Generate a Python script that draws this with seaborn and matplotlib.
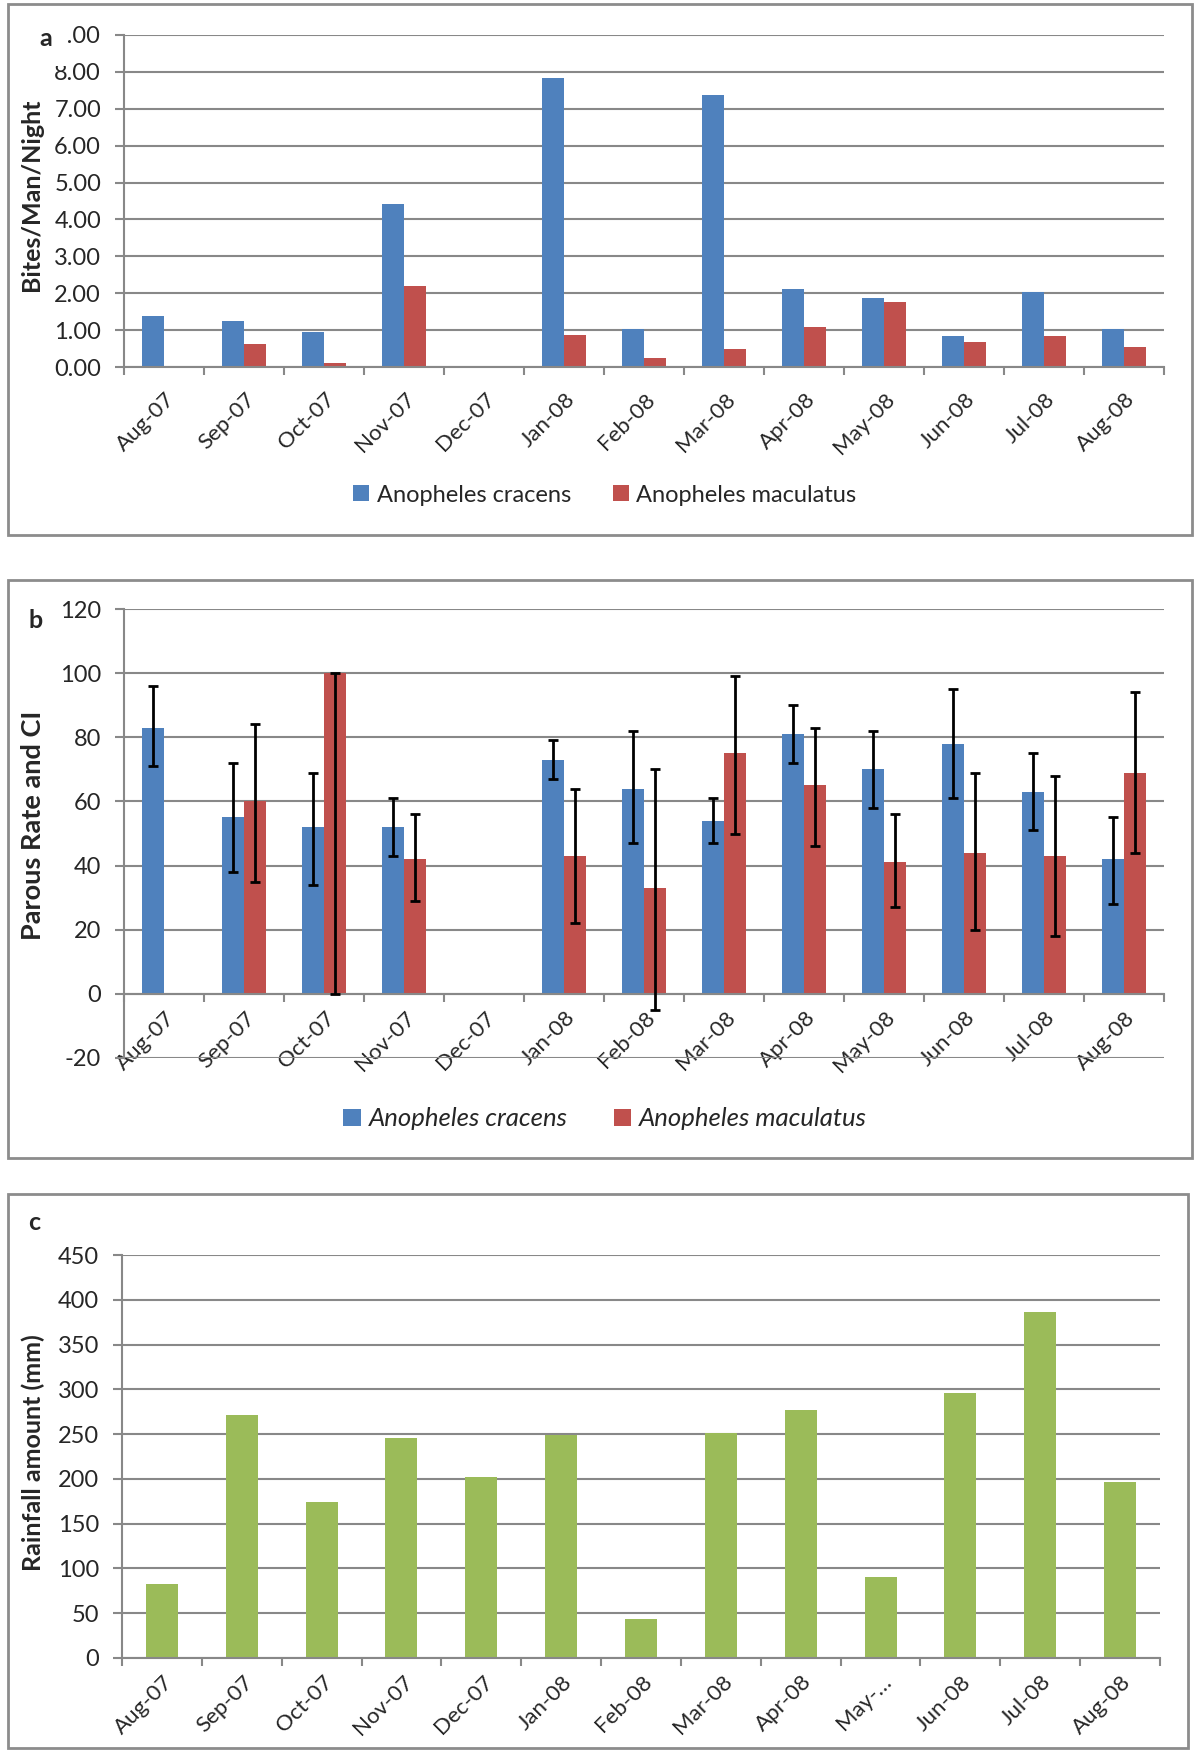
import numpy as np
import pandas as pd
import matplotlib
matplotlib.use("Agg")
import matplotlib.pyplot as plt
import seaborn as sns
from matplotlib.patches import Rectangle
from matplotlib.transforms import ScaledTranslation

# ---------------- data ----------------
months = ["Aug-07", "Sep-07", "Oct-07", "Nov-07", "Dec-07", "Jan-08", "Feb-08",
          "Mar-08", "Apr-08", "May-08", "Jun-08", "Jul-08", "Aug-08"]
months_c = ["Aug-07", "Sep-07", "Oct-07", "Nov-07", "Dec-07", "Jan-08", "Feb-08",
            "Mar-08", "Apr-08", "May-\u2026", "Jun-08", "Jul-08", "Aug-08"]
species = ["Anopheles cracens", "Anopheles maculatus"]

bites_cracens = [1.38, 1.25, 0.96, 4.43, 0.0, 7.83, 1.04, 7.37, 2.11, 1.87, 0.83, 2.04, 1.04]
bites_maculatus = [0.0, 0.63, 0.12, 2.20, 0.0, 0.87, 0.25, 0.50, 1.08, 1.75, 0.67, 0.83, 0.53]

nan = np.nan
parous_cracens = [83, 55, 52, 52, 0, 73, 64, 54, 81, 70, 78, 63, 42]
parous_cracens_low = [71, 38, 34, 43, nan, 67, 47, 47, 72, 58, 61, 51, 28]
parous_cracens_high = [96, 72, 69, 61, nan, 79, 82, 61, 90, 82, 95, 75, 55]
parous_maculatus = [0, 60, 100, 42, 0, 43, 33, 75, 65, 41, 44, 43, 69]
parous_maculatus_low = [nan, 35, 0, 29, nan, 22, -5, 50, 46, 27, 20, 18, 44]
parous_maculatus_high = [nan, 84, 100, 56, nan, 64, 70, 99, 83, 56, 69, 68, 94]

rainfall = [83, 271, 174, 246, 202, 249, 44, 251, 277, 91, 296, 386, 197]

BLUE = "#4F81BD"
RED = "#C0504D"
GREEN = "#9BBB59"
GRID = "#888888"
FRAME = "#8c8c8c"

df_a = pd.DataFrame({
    "month": months * 2,
    "species": [species[0]] * 13 + [species[1]] * 13,
    "value": bites_cracens + bites_maculatus,
})
df_b = pd.DataFrame({
    "month": months * 2,
    "species": [species[0]] * 13 + [species[1]] * 13,
    "value": parous_cracens + parous_maculatus,
})
df_c = pd.DataFrame({"month": months_c, "rain": rainfall})

# ---------------- figure ----------------
sns.set_style("white")
plt.rcParams["font.family"] = ["Lato", "DejaVu Sans"]
plt.rcParams["axes.unicode_minus"] = False
W, H = 1200, 1759
fig = plt.figure(figsize=(W / 100, H / 100), dpi=100)


def px_axes(left, top, right, bottom):
    return fig.add_axes([left / W, 1 - bottom / H, (right - left) / W, (bottom - top) / H])


def frame(x0, y0, x1, y1):
    fig.add_artist(Rectangle((x0 / W, 1 - y1 / H), (x1 - x0) / W, (y1 - y0) / H,
                             transform=fig.transFigure, fill=False,
                             edgecolor=FRAME, lw=2))


def style(ax, ylim, yticks, ysize, xsize, xpad):
    ax.set_xlim(-0.5, 12.5)
    ax.set_ylim(*ylim)
    ax.set_yticks(yticks)
    ax.yaxis.grid(True, color=GRID, lw=1.5)
    ax.xaxis.grid(False)
    ax.set_axisbelow(True)
    for s in ["top", "right"]:
        ax.spines[s].set_visible(False)
    for s in ["left", "bottom"]:
        ax.spines[s].set_color(GRID)
        ax.spines[s].set_linewidth(1.5)
    ax.set_xticks(np.arange(-0.5, 13, 1), minor=True)
    ax.tick_params(axis="x", which="major", length=0, pad=xpad, labelsize=xsize,
                   labelrotation=45)
    ax.tick_params(axis="x", which="minor", length=6, color=GRID, width=1.5,
                   direction="out", bottom=True)
    ax.tick_params(axis="y", length=6.5, color=GRID, width=1.5, labelsize=ysize,
                   pad=10, left=True, direction="out")
    ax.set_xlabel("")
    ax.set_facecolor("white")


def fix_xlabels(ax, dx):
    off = ScaledTranslation(dx / 100, 0, fig.dpi_scale_trans)
    for lbl in ax.get_xticklabels():
        lbl.set_ha("right")
        lbl.set_va("center")
        lbl.set_rotation_mode("anchor")
        lbl.set_transform(lbl.get_transform() + off)


# frames of the three chart areas
frame(8, 4, 1192, 535)
frame(8, 580, 1192, 1158)
frame(8, 1194, 1188, 1748)

leg_kw = dict(bbox_transform=fig.transFigure, ncol=2, frameon=False, title=None,
              handlelength=0.68, handleheight=0.68, handletextpad=0.3,
              columnspacing=1.8)

# ---------------- panel a ----------------
ax_a = px_axes(124, 35, 1164, 367)
sns.barplot(data=df_a, x="month", y="value", hue="species",
            palette=[BLUE, RED], width=0.56, errorbar=None, saturation=1,
            linewidth=0, ax=ax_a)
style(ax_a, (0, 9), np.arange(0, 10, 1), 17, 16, 21)
ax_a.set_yticklabels([f"{v:.2f}" for v in np.arange(0, 10, 1)])
ax_a.set_ylabel("Bites/Man/Night", fontsize=18, fontweight="bold")
ax_a.yaxis.set_label_coords(32 / W, 1 - 195 / H, transform=fig.transFigure)
ax_a.yaxis.label.set_va("center")
fix_xlabels(ax_a, 8)
sns.move_legend(ax_a, "center", bbox_to_anchor=(605 / W, 1 - 495 / H),
                fontsize=17, **leg_kw)

# ---------------- panel b ----------------
ax_b = px_axes(124, 609, 1164, 1058)
sns.barplot(data=df_b, x="month", y="value", hue="species",
            palette=[BLUE, RED], width=0.56, errorbar=None, saturation=1,
            linewidth=0, ax=ax_b)
style(ax_b, (-20, 120), np.arange(-20, 121, 20), 17, 16, 15)
ax_b.spines["bottom"].set_position(("data", 0))
ax_b.set_ylabel("Parous Rate and CI", fontsize=19.5, fontweight="bold")
ax_b.yaxis.set_label_coords(33 / W, 1 - 825 / H, transform=fig.transFigure)
ax_b.yaxis.label.set_va("center")
fix_xlabels(ax_b, 8)

err_sets = [
    (parous_cracens, parous_cracens_low, parous_cracens_high),
    (parous_maculatus, parous_maculatus_low, parous_maculatus_high),
]
for cont, (vals, lows, highs) in zip(ax_b.containers, err_sets):
    for bar, v, lo, hi in zip(cont, vals, lows, highs):
        if np.isnan(lo):
            continue
        xc = bar.get_x() + bar.get_width() / 2
        ax_b.errorbar([xc], [v], yerr=[[v - lo], [hi - v]], fmt="none",
                      ecolor="black", elinewidth=2, capsize=3.5, capthick=2,
                      zorder=5)

sns.move_legend(ax_b, "center", bbox_to_anchor=(605 / W, 1 - 1119 / H),
                prop={"style": "italic", "size": 18.5}, **leg_kw)

# ---------------- panel c ----------------
ax_c = px_axes(122, 1255, 1160, 1658)
sns.barplot(data=df_c, x="month", y="rain", color=GREEN, width=0.4,
            errorbar=None, saturation=1, linewidth=0, ax=ax_c)
style(ax_c, (0, 450), np.arange(0, 451, 50), 17, 16, 15)
ax_c.set_ylabel("Rainfall amount (mm)", fontsize=18, fontweight="bold")
ax_c.yaxis.set_label_coords(33 / W, 1 - 1453 / H, transform=fig.transFigure)
ax_c.yaxis.label.set_va("center")
fix_xlabels(ax_c, 8)

# panel letters (the "a" box hides part of the top tick labels, as in the original)
fig.text(46 / W, 1 - 39 / H, "a", fontsize=18, fontweight="bold", ha="center",
         va="center", zorder=10,
         bbox=dict(facecolor="white", edgecolor="none", boxstyle="square,pad=0.6"))
fig.text(36 / W, 1 - 621 / H, "b", fontsize=18, fontweight="bold", ha="center", va="center")
fig.text(34 / W, 1 - 1223 / H, "c", fontsize=18, fontweight="bold", ha="center", va="center")

fig.savefig("out.png", dpi=100, facecolor="white")
